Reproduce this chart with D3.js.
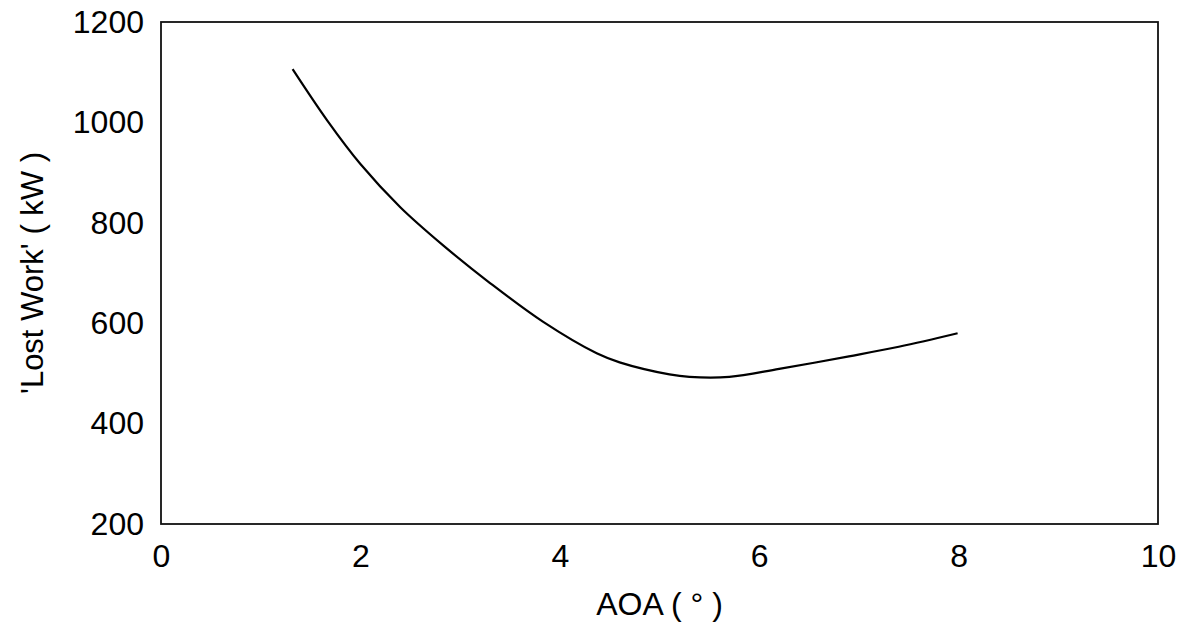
<!DOCTYPE html>
<html>
<head>
<meta charset="utf-8">
<script src="https://cdn.jsdelivr.net/npm/d3@7"></script>
<style>
body { margin: 0; background: #fff; }
text { font-family: "Liberation Sans", Arial, sans-serif; fill: #000; }
</style>
</head>
<body>
<div class="content"></div>
<script>
// values
var aoa  = [1.32, 1.67, 2.00, 2.40, 2.83, 3.30, 3.83, 4.37, 4.60, 5.10, 5.30, 5.70, 6.20, 6.90, 7.40, 7.99];
var lost = [1106, 1003, 917, 831, 755, 680, 603, 540, 522, 498, 493, 493, 509, 534, 553, 580];
var xTicks = [0, 2, 4, 6, 8, 10];
var yTicks = [200, 400, 600, 800, 1000, 1200];

var width = 1185, height = 627;
var pLeft = 161, pRight = 1158, pTop = 22, pBottom = 524;

var svg = d3.select(".content").append("svg").attr("width", width).attr("height", height);

var x = d3.scaleLinear().domain([0, 10]).range([pLeft, pRight]);
var y = d3.scaleLinear().domain([200, 1200]).range([pBottom, pTop]);

var data = aoa.map(function(d, i){ return {x: d, y: lost[i]}; });

// frame
svg.append("rect").attr("x", pLeft).attr("y", pTop).attr("width", pRight - pLeft).attr("height", pBottom - pTop)
	.attr("fill", "none").attr("stroke", "#111").attr("stroke-width", 1.8);

var xa = svg.append("g").attr("transform", "translate(0," + pBottom + ")")
	.call(d3.axisBottom(x).tickValues(xTicks).tickSize(0).tickPadding(20).tickFormat(d3.format("d")));
xa.select(".domain").remove();
xa.attr("font-size", 32).attr("font-family", "Liberation Sans, Arial, sans-serif");

var ya = svg.append("g").attr("transform", "translate(" + pLeft + ",0)")
	.call(d3.axisLeft(y).tickValues(yTicks).tickSize(0).tickPadding(17).tickFormat(d3.format("d")));
ya.select(".domain").remove();
ya.attr("font-size", 32).attr("font-family", "Liberation Sans, Arial, sans-serif");

var line = d3.line().x(function(d){ return x(d.x); }).y(function(d){ return y(d.y); }).curve(d3.curveCatmullRom.alpha(0.5));
svg.append("path").datum(data).attr("d", line).attr("fill", "none").attr("stroke", "#000").attr("stroke-width", 2.2);

svg.append("text").attr("x", (pLeft + pRight) / 2).attr("y", 615).attr("text-anchor", "middle")
	.attr("font-size", 32).text("AOA ( ° )");

svg.append("text").attr("transform", "translate(43," + ((pTop + pBottom) / 2) + ") rotate(-90)")
	.attr("text-anchor", "middle").attr("font-size", 31).text("'Lost Work' ( kW )");
</script>
</body>
</html>
